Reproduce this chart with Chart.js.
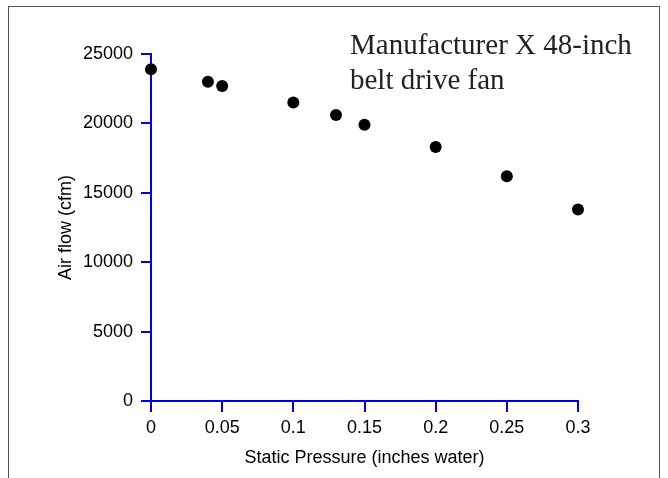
<!DOCTYPE html>
<html>
<head>
<meta charset="utf-8">
<script src="https://cdn.jsdelivr.net/npm/chart.js@4/dist/chart.umd.min.js"></script>
<style>
  html, body { margin: 0; padding: 0; background: #fff; overflow: hidden; }
  #wrap { position: relative; width: 668px; height: 478px; }
  #frame {
    position: absolute; left: 8px; top: 6px; width: 650px; height: 490px;
    border: 1px solid #555; border-bottom: none; pointer-events: none;
  }
  canvas { position: absolute; left: 0; top: 0; }
</style>
</head>
<body>
<div id="wrap">
  <canvas id="fanChart" width="668" height="478"></canvas>
  <div id="frame"></div>
</div>
<script>
// static pressure (inches water) vs air flow (cfm)
const pressure = [0, 0.04, 0.05, 0.1, 0.13, 0.15, 0.2, 0.25, 0.3];
const airflow = [23900, 23000, 22700, 21500, 20600, 19900, 18300, 16200, 13800];
const noteLines = ['Manufacturer X 48-inch', 'belt drive fan'];

const axisBlue = 'rgb(0, 0, 225)';
const sansFont = { family: 'Arial, "Liberation Sans", sans-serif', size: 18 };

// text note in the upper right corner
const notePlugin = {
    id: 'note',
    afterDraw(chart) {
        const ctx = chart.ctx;
        ctx.save();
        ctx.font = '29px "Times New Roman", "Liberation Serif", serif';
        ctx.fillStyle = '#222';
        ctx.textBaseline = 'alphabetic';
        noteLines.forEach((line, i) => {
            ctx.fillText(line, chart.chartArea.left + 199, 54 + i * 35);
        });
        ctx.restore();
    }
};

new Chart(document.getElementById('fanChart'), {
    type: 'scatter',
    data: {
        datasets: [{
            data: pressure.map((p, i) => ({ x: p, y: airflow[i] })),
            backgroundColor: '#000',
            borderWidth: 0,
            pointRadius: 6,
            clip: false
        }]
    },
    options: {
        responsive: false,
        animation: false,
        layout: { padding: { left: 0, top: 54, right: 90, bottom: 7 } },
        plugins: { legend: { display: false }, tooltip: { enabled: false } },
        scales: {
            x: {
                type: 'linear',
                min: 0,
                max: 0.3,
                afterFit: s => { s.height = 70; },
                border: { display: true, color: axisBlue, width: 2 },
                grid: { drawOnChartArea: false, drawTicks: true, tickLength: 11, color: axisBlue, lineWidth: 2 },
                ticks: {
                    stepSize: 0.05,
                    padding: 5,
                    color: '#000',
                    font: sansFont,
                    maxRotation: 0,
                    callback: v => String(+v.toFixed(2))
                },
                title: {
                    display: true,
                    text: 'Static Pressure (inches water)',
                    color: '#000',
                    font: sansFont,
                    padding: { top: 0, bottom: 2 }
                }
            },
            y: {
                min: 0,
                max: 25000,
                afterFit: s => { s.width = 151; },
                border: { display: true, color: axisBlue, width: 2 },
                grid: { drawOnChartArea: false, drawTicks: true, tickLength: 10, color: axisBlue, lineWidth: 2 },
                ticks: {
                    stepSize: 5000,
                    padding: 8,
                    color: '#000',
                    font: sansFont,
                    callback: v => String(v)
                },
                title: {
                    display: true,
                    text: 'Air flow (cfm)',
                    color: '#000',
                    font: sansFont,
                    padding: { top: 55, bottom: 0 }
                }
            }
        }
    },
    plugins: [notePlugin]
});
</script>
</body>
</html>
